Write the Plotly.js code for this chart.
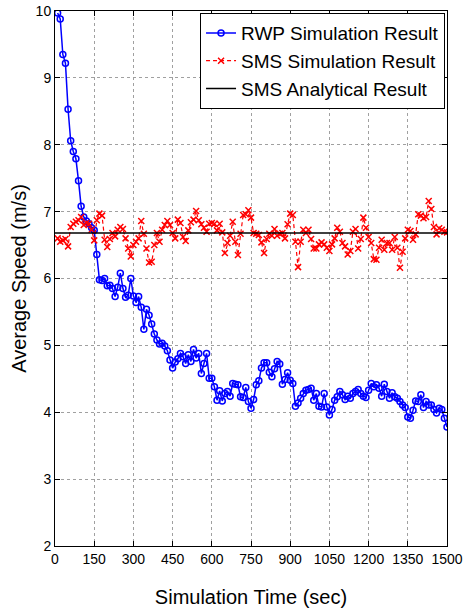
<!DOCTYPE html>
<html>
<head>
<meta charset="utf-8">
<script src="https://cdn.plot.ly/plotly-3.0.1.min.js"></script>
<style>html,body{margin:0;padding:0;background:#fff;}#chart{width:464px;height:612px;}</style>
</head>
<body>
<div id="chart"></div>
<script>
// Simulation times (sec), 10 s steps
const timeSec = [];
for (let t = 10; t <= 1500; t += 10) timeSec.push(t);

// RWP simulation result (m/s)
const rwpSpeed = [
  9.97, 9.88, 9.35, 9.22, 8.53, 8.06, 7.90, 7.79, 7.46, 7.08,
  6.92, 6.86, 6.82, 6.76, 6.72, 6.36, 5.98, 5.97, 6.00, 5.89,
  5.90, 5.85, 5.73, 5.87, 6.08, 5.85, 5.72, 5.75, 6.00, 5.74,
  5.64, 5.73, 5.57, 5.24, 5.54, 5.45, 5.32, 5.17, 5.08, 5.02,
  5.03, 4.99, 4.92, 4.78, 4.66, 4.75, 4.80, 4.88, 4.83, 4.73,
  4.86, 4.76, 4.94, 4.81, 4.88, 4.58, 4.73, 4.88, 4.51, 4.51,
  4.38, 4.18, 4.32, 4.17, 4.28, 4.31, 4.24, 4.43, 4.42, 4.41,
  4.23, 4.22, 4.37, 4.16, 4.06, 4.19, 4.41, 4.47, 4.66, 4.74,
  4.74, 4.60, 4.53, 4.65, 4.76, 4.72, 4.42, 4.49, 4.59, 4.48,
  4.43, 4.09, 4.14, 4.21, 4.28, 4.33, 4.34, 4.36, 4.18, 4.28,
  4.09, 4.08, 4.28, 4.08, 3.96, 4.04, 4.18, 4.23, 4.31, 4.26,
  4.19, 4.24, 4.21, 4.28, 4.31, 4.34, 4.28, 4.24, 4.22, 4.33,
  4.43, 4.38, 4.41, 4.36, 4.24, 4.42, 4.31, 4.21, 4.29, 4.23,
  4.21, 4.16, 4.11, 4.07, 3.93, 3.91, 4.03, 4.17, 4.16, 4.26,
  4.07, 4.16, 4.11, 4.11, 4.04, 3.99, 4.06, 4.04, 3.91, 3.78
];

// SMS simulation result (m/s)
const smsSpeed = [
  6.60, 6.55, 6.57, 6.59, 6.48, 6.77, 6.82, 6.85, 6.87, 6.92,
  6.80, 6.83, 6.82, 6.73, 6.57, 6.87, 6.97, 6.94, 6.58, 6.47,
  6.59, 6.68, 6.63, 6.73, 6.77, 6.74, 6.60, 6.45, 6.33, 6.50,
  6.55, 6.60, 6.86, 6.67, 6.45, 6.24, 6.25, 6.50, 6.68, 6.55,
  6.73, 6.80, 6.86, 6.80, 6.68, 6.60, 6.88, 6.83, 6.62, 6.56,
  6.72, 6.84, 6.88, 7.01, 6.87, 6.81, 6.76, 6.70, 6.82, 6.83,
  6.82, 6.72, 6.82, 6.69, 6.38, 6.53, 6.64, 6.85, 6.55, 6.35,
  6.67, 6.95, 6.96, 7.02, 6.91, 6.68, 6.67, 6.65, 6.54, 6.38,
  6.59, 6.67, 6.64, 6.74, 6.64, 6.67, 6.68, 6.60, 6.81, 6.97,
  6.95, 6.55, 6.17, 6.55, 6.73, 6.68, 6.73, 6.59, 6.45, 6.45,
  6.51, 6.54, 6.51, 6.46, 6.41, 6.51, 6.60, 6.76, 6.70, 6.53,
  6.48, 6.36, 6.41, 6.70, 6.74, 6.45, 6.59, 6.91, 6.76, 6.62,
  6.53, 6.29, 6.28, 6.46, 6.58, 6.43, 6.53, 6.53, 6.43, 6.62,
  6.46, 6.16, 6.40, 6.60, 6.73, 6.71, 6.58, 6.66, 6.96, 6.94,
  6.90, 6.92, 7.16, 7.04, 6.77, 6.66, 6.75, 6.73, 6.70, 6.69
];

// SMS analytical result (m/s)
const analyticalTime = [0, 1500];
const analyticalSpeed = [6.68, 6.68];

const xTicks = [0, 150, 300, 450, 600, 750, 900, 1050, 1200, 1350, 1500];
const yTicks = [2, 3, 4, 5, 6, 7, 8, 9, 10];

const font = 'Liberation Sans, Arial, Helvetica, sans-serif';

const traces = [
  {
    x: timeSec, y: rwpSpeed, type: 'scatter', mode: 'lines+markers',
    name: 'RWP Simulation Result',
    line: {color: '#0000ff', width: 1.5},
    marker: {symbol: 'circle-open', size: 6, color: '#0000ff', line: {width: 1.5, color: '#0000ff'}}
  },
  {
    x: timeSec, y: smsSpeed, type: 'scatter', mode: 'lines+markers',
    name: 'SMS Simulation Result',
    line: {color: '#ff0000', width: 1.2, dash: '4px,3px'},
    marker: {symbol: 'x-thin-open', size: 6, color: '#ff0000', line: {width: 1.5, color: '#ff0000'}}
  },
  {
    x: analyticalTime, y: analyticalSpeed, type: 'scatter', mode: 'lines',
    name: 'SMS Analytical Result',
    line: {color: '#000000', width: 1.5}
  }
];

const axisCommon = {
  showline: true, linecolor: '#000', linewidth: 1, mirror: 'ticks',
  ticks: 'inside', ticklen: 5, tickwidth: 1, tickcolor: '#000',
  showgrid: true, gridcolor: 'rgb(160,160,160)', griddash: 'dot', gridwidth: 1,
  zeroline: false,
  tickfont: {family: font, size: 14, color: '#000'}
};

const layout = {
  width: 464, height: 612,
  margin: {l: 55, r: 17, t: 11, b: 66},
  paper_bgcolor: '#fff', plot_bgcolor: '#fff',
  showlegend: true,
  xaxis: Object.assign({}, axisCommon, {
    range: [0, 1500], tickvals: xTicks, ticktext: xTicks.map(String),
    title: {text: 'Simulation Time (sec)', font: {family: font, size: 20, color: '#000'}, standoff: 24}
  }),
  yaxis: Object.assign({}, axisCommon, {
    range: [2, 10], tickvals: yTicks, ticktext: yTicks.map(String),
    title: {text: 'Average Speed (m/s)', font: {family: font, size: 20, color: '#000'}, standoff: 3}
  }),
  legend: {
    x: 0.995, xanchor: 'right', y: 0.996, yanchor: 'top',
    bgcolor: '#fff', bordercolor: '#000', borderwidth: 1,
    font: {family: font, size: 19, color: '#000'},
    tracegroupgap: 0, itemwidth: 30
  }
};

Plotly.newPlot('chart', traces, layout, {displayModeBar: false, staticPlot: true});
</script>
</body>
</html>
